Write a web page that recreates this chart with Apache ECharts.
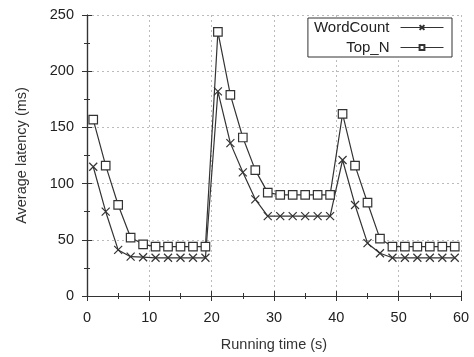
<!DOCTYPE html>
<html><head><meta charset="utf-8">
<script src="https://cdn.jsdelivr.net/npm/echarts@6/dist/echarts.min.js"></script>
<style>html,body{margin:0;padding:0;background:#fff}#c{width:474px;height:357px}</style>
</head><body><div id="c"></div>
<script>
const xValues = [1,3,5,7,9,11,13,15,17,19,21,23,25,27,29,31,33,35,37,39,41,43,45,47,49,51,53,55,57,59];
const wordCount = [115,75,41,35,34.5,34,34,34,34,34,182,136,110,86,71,71,71,71,71,71,121,81,47,38,34,34,34,34,34,34];
const topN = [157,116,81,52,46,44,44,44,44,44,235,179,141,112,92,90,90,90,90,90,162,116,83,51,44,44,44,44,44,44];
const xTicks = [0,10,20,30,40,50,60];
const yTicks = [0,50,100,150,200,250];

const font = 'Liberation Sans, Arial, sans-serif';
const ink = '#333';
const chart = echarts.init(document.getElementById('c'));
function pairs(v){ return xValues.map((x,i)=>[x,v[i]]); }
const baseAxis = {
  axisLine:{show:true,lineStyle:{color:ink,width:1.2}},
  axisTick:{show:true,inside:true,length:5,lineStyle:{color:ink}},
  minorTick:{show:true,splitNumber:2,length:3,lineStyle:{color:ink}},
};
chart.setOption({
  animation:false,
  grid:{left:87,right:13,top:15,bottom:60},
  legend:{
    right:22, top:18, orient:'vertical', align:'right',
    itemWidth:43, itemHeight:6, itemGap:5,
    borderColor:ink, borderWidth:1, padding:[2,8,2,6],
    backgroundColor:'#fff',
    textStyle:{fontFamily:font,fontSize:15,color:'#222',padding:[0,6,0,0]},
    lineStyle:{width:1},
    data:['WordCount','Top_N']
  },
  xAxis:[
    Object.assign({type:'value',min:0,max:60,interval:10,
      name:'Running time (s)',nameLocation:'middle',nameGap:41,
      nameTextStyle:{fontFamily:font,fontSize:14.5,color:ink},
      axisLabel:{fontFamily:font,fontSize:14.5,color:'#222',margin:14},
      splitLine:{show:true,lineStyle:{color:'#bbb',type:[2,3]}}
    },baseAxis),
    Object.assign({type:'value',min:0,max:60,interval:10,position:'top',
      axisLabel:{show:false},splitLine:{show:false}},baseAxis)
  ],
  yAxis:[
    Object.assign({type:'value',min:0,max:250,interval:50,
      name:'Average latency (ms)',nameLocation:'middle',nameGap:58,
      nameTextStyle:{fontFamily:font,fontSize:14.5,color:ink},
      axisLabel:{fontFamily:font,fontSize:14.5,color:'#222',margin:13},
      splitLine:{show:true,lineStyle:{color:'#bbb',type:[2,3]}}
    },baseAxis),
    Object.assign({type:'value',min:0,max:250,interval:50,position:'right',
      axisLabel:{show:false},splitLine:{show:false}},baseAxis)
  ],
  series:[
    {name:'WordCount',type:'line',data:pairs(wordCount),
     symbol:'path://M0,0L10,10M10,0L0,10',symbolSize:8,showAllSymbol:true,
     lineStyle:{color:ink,width:1.2},
     itemStyle:{color:'transparent',borderColor:ink,borderWidth:1.2}},
    {name:'Top_N',type:'line',data:pairs(topN),
     symbol:'rect',symbolSize:8.5,showAllSymbol:true,
     lineStyle:{color:ink,width:1.2},
     itemStyle:{color:'#fff',borderColor:ink,borderWidth:1.2}}
  ]
});
</script></body></html>
